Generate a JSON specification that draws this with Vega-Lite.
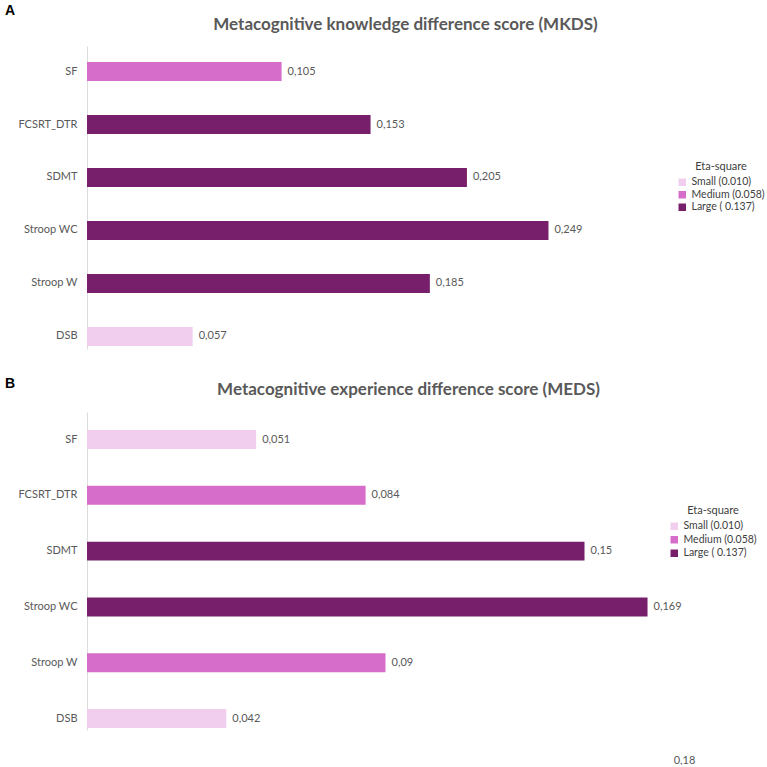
{
  "$schema": "https://vega.github.io/schema/vega-lite/v6.json",
  "background": "white",
  "padding": {"left": 4, "top": 4, "right": 0, "bottom": 0},
  "config": {
    "font": "Lato",
    "view": {"stroke": null},
    "locale": {"number": {"decimal": ",", "thousands": ".", "grouping": [3], "currency": ["", " €"]}}
  },
  "datasets": {
    "mkds": [
      {"test": "SF", "eta": 0.105, "effect": "Medium (0.058)"},
      {"test": "FCSRT_DTR", "eta": 0.153, "effect": "Large ( 0.137)"},
      {"test": "SDMT", "eta": 0.205, "effect": "Large ( 0.137)"},
      {"test": "Stroop WC", "eta": 0.249, "effect": "Large ( 0.137)"},
      {"test": "Stroop W", "eta": 0.185, "effect": "Large ( 0.137)"},
      {"test": "DSB", "eta": 0.057, "effect": "Small (0.010)"}
    ],
    "meds": [
      {"test": "SF", "eta": 0.051, "effect": "Small (0.010)"},
      {"test": "FCSRT_DTR", "eta": 0.084, "effect": "Medium (0.058)"},
      {"test": "SDMT", "eta": 0.15, "effect": "Large ( 0.137)"},
      {"test": "Stroop WC", "eta": 0.169, "effect": "Large ( 0.137)"},
      {"test": "Stroop W", "eta": 0.09, "effect": "Medium (0.058)"},
      {"test": "DSB", "eta": 0.042, "effect": "Small (0.010)"}
    ]
  },
  "resolve": {"legend": {"color": "independent"}, "scale": {"x": "independent", "y": "independent"}},
  "spacing": 28,
  "vconcat": [
    {
      "data": {"name": "mkds"},
      "width": 556,
      "height": 303,
      "title": {"text": "A", "anchor": "start", "frame": "bounds", "dx": -13, "offset": -3, "fontSize": 14, "font": "Liberation Sans", "fontWeight": "bold", "color": "#000000"},
      "encoding": {
        "y": {
          "field": "test", "type": "nominal", "sort": null,
          "scale": {"paddingInner": 0.64, "paddingOuter": 0.18, "align": 0.84},
          "axis": {"title": null, "ticks": false, "domainColor": "#dcdcdc", "labelPadding": 10, "labelFontSize": 11, "labelColor": "#595959"}
        },
        "x": {
          "field": "eta", "type": "quantitative", "scale": {"domain": [0, 0.3]},
          "axis": {"orient": "top", "title": "Metacognitive knowledge difference score (MKDS)", "labels": false, "ticks": false, "domain": false, "grid": false, "titleFontSize": 17, "titleFontWeight": "bold", "titleColor": "#595959", "titleX": 318, "titlePadding": 13}
        }
      },
      "layer": [
        {
          "mark": {"type": "bar"},
          "encoding": {
            "color": {
              "field": "effect", "type": "nominal",
              "scale": {"domain": ["Small (0.010)", "Medium (0.058)", "Large ( 0.137)"], "range": ["#F1CEEE", "#D76DCB", "#781F6B"]},
              "legend": {"title": "Eta-square", "orient": "none", "legendX": 590, "legendY": 115, "titleAnchor": "middle", "symbolType": "square", "symbolSize": 56, "symbolStrokeWidth": 0, "labelFontSize": 10.5, "titleFontSize": 11, "titleFontWeight": "normal", "titleColor": "#404040", "labelColor": "#404040", "rowPadding": 1.5, "labelOffset": 4, "labelLimit": 200}
            }
          }
        },
        {
          "mark": {"type": "text", "align": "left", "dx": 6, "fontSize": 11, "color": "#595959"},
          "encoding": {"text": {"field": "eta", "type": "quantitative", "format": ".3~f"}}
        }
      ]
    },
    {
      "data": {"name": "meds"},
      "width": 597,
      "height": 318,
      "title": {"text": "B", "anchor": "start", "frame": "bounds", "dx": -13, "offset": -11, "fontSize": 14, "font": "Liberation Sans", "fontWeight": "bold", "color": "#000000"},
      "resolve": {"axis": {"x": "independent"}},
      "encoding": {
        "y": {
          "field": "test", "type": "nominal", "sort": null,
          "scale": {"paddingInner": 0.66, "paddingOuter": 0.18, "align": 0.9},
          "axis": {"title": null, "ticks": false, "domainColor": "#dcdcdc", "labelPadding": 10, "labelFontSize": 11, "labelColor": "#595959"}
        }
      },
      "layer": [
        {
          "mark": {"type": "bar"},
          "encoding": {
            "x": {
              "field": "eta", "type": "quantitative", "scale": {"domain": [0, 0.18]},
              "axis": {"orient": "top", "title": "Metacognitive experience difference score (MEDS)", "labels": false, "ticks": false, "domain": false, "grid": false, "titleFontSize": 17, "titleFontWeight": "bold", "titleColor": "#595959", "titleX": 321, "titlePadding": 14}
            },
            "color": {
              "field": "effect", "type": "nominal",
              "scale": {"domain": ["Small (0.010)", "Medium (0.058)", "Large ( 0.137)"], "range": ["#F1CEEE", "#D76DCB", "#781F6B"]},
              "legend": {"title": "Eta-square", "orient": "none", "legendX": 582, "legendY": 93, "titleAnchor": "middle", "symbolType": "square", "symbolSize": 56, "symbolStrokeWidth": 0, "labelFontSize": 10.5, "titleFontSize": 11, "titleFontWeight": "normal", "titleColor": "#404040", "labelColor": "#404040", "rowPadding": 2.5, "labelOffset": 4, "labelLimit": 200}
            }
          }
        },
        {
          "mark": {"type": "text", "align": "left", "dx": 6, "fontSize": 11, "color": "#595959"},
          "encoding": {
            "x": {
              "field": "eta", "type": "quantitative", "scale": {"domain": [0, 0.18]},
              "axis": {"orient": "bottom", "values": [0.18], "format": ".2~f", "labelExpr": "replace(datum.label, '.', ',')", "labelFlush": false, "title": null, "domain": false, "ticks": false, "grid": false, "labelPadding": 24, "labelFontSize": 11, "labelColor": "#595959"}
            },
            "text": {"field": "eta", "type": "quantitative", "format": ".3~f"}
          }
        }
      ]
    }
  ]
}
